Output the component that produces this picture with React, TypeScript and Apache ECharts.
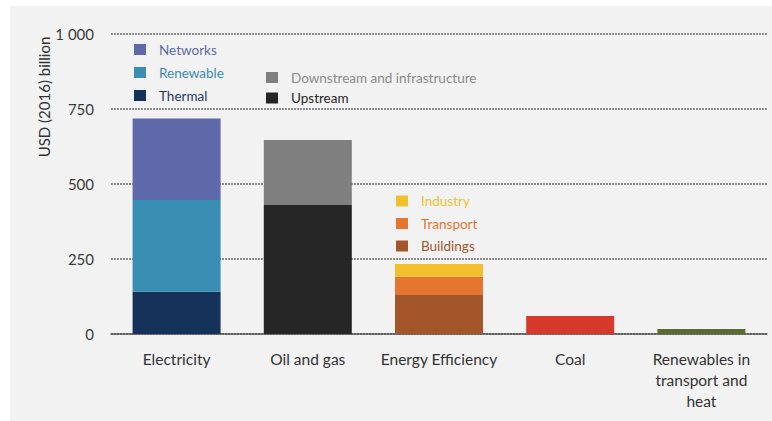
import React, { useEffect, useRef } from "react";
import * as echarts from "echarts";

// Investment by sector, USD (2016) billion
const categories = [
  "Electricity",
  "Oil and gas",
  "Energy Efficiency",
  "Coal",
  "Renewables in\ntransport and\nheat",
];
const thermal = [141, null, null, null, null];
const renewable = [306, null, null, null, null];
const networks = [271, null, null, null, null];
const upstream = [null, 430, null, null, null];
const downstream = [null, 217, null, null, null];
const buildings = [null, null, 130, null, null];
const transport = [null, null, 61, null, null];
const industry = [null, null, 42, null, null];
const coal = [null, null, null, 60, null];
const renewablesHeat = [null, null, null, null, 17];
const yTicks = [0, 250, 500, 750, 1000];

const FONT = "Lato, 'Open Sans', sans-serif";

const colors = {
  Networks: "#5f69aa",
  Renewable: "#3a8db3",
  Thermal: "#14325a",
  "Downstream and infrastructure": "#7f7f7f",
  Upstream: "#262626",
  Industry: "#f2bf2e",
  Transport: "#e5762f",
  Buildings: "#a3562a",
  Coal: "#d6392c",
  "Renewables in transport and heat": "#5b6b2f",
};

const legendText = {
  Networks: "#5f69aa",
  Renewable: "#3a8db3",
  Thermal: "#1d3a63",
  "Downstream and infrastructure": "#8a8a8a",
  Upstream: "#262626",
  Industry: "#f2bf2e",
  Transport: "#e5762f",
  Buildings: "#a3562a",
};

function bar(name: string, data: (number | null)[]) {
  return {
    name,
    type: "bar",
    stack: "total",
    barWidth: 88,
    data,
    itemStyle: { color: (colors as any)[name] },
  };
}

function legend(names: string[], left: number, top: number, gap: number) {
  return {
    orient: "vertical",
    left,
    top,
    itemWidth: 12,
    itemHeight: 11,
    itemGap: gap,
    icon: "rect",
    selectedMode: false,
    textStyle: {
      fontFamily: FONT,
      fontSize: 13.5,
      padding: [0, 0, 0, 8],
    },
    data: names.map((n) => ({
      name: n,
      textStyle: { color: (legendText as any)[n] },
    })),
  };
}

export default function App() {
  const ref = useRef<HTMLDivElement>(null);

  useEffect(() => {
    if (!ref.current) return;
    const chart = echarts.init(ref.current, undefined, { renderer: "svg" });
    chart.setOption({
      animation: false,
      backgroundColor: "#ffffff",
      grid: { left: 111, right: 5, top: 34, bottom: 87, containLabel: false },
      graphic: [
        {
          type: "rect",
          z: -10,
          silent: true,
          shape: { x: 10, y: 6, width: 762, height: 415 },
          style: { fill: "#f2f2f2" },
        },
        {
          type: "text",
          x: 44,
          y: 97,
          rotation: Math.PI / 2,
          style: {
            text: "USD (2016) billion",
            fontFamily: FONT,
            fontSize: 15,
            fill: "#333333",
            align: "center",
            verticalAlign: "middle",
          },
        },
      ],
      legend: [
        legend(["Networks", "Renewable", "Thermal"], 129, 37.5, 9),
        legend(["Downstream and infrastructure", "Upstream"], 261, 65.5, 6.5),
        legend(["Industry", "Transport", "Buildings"], 391, 189, 8.5),
      ],
      xAxis: {
        type: "category",
        data: categories,
        axisLine: { lineStyle: { color: "#555555", width: 1.5 } },
        axisTick: { show: false },
        axisLabel: {
          fontFamily: FONT,
          fontSize: 15.5,
          color: "#333333",
          margin: 14,
          lineHeight: 21,
          interval: 0,
        },
      },
      yAxis: {
        type: "value",
        min: 0,
        max: 1000,
        interval: 250,
        axisLine: { show: false },
        axisTick: { show: false },
        axisLabel: {
          fontFamily: FONT,
          fontSize: 15,
          color: "#3a3a3a",
          margin: 17,
          formatter: (v: number) =>
            yTicks.includes(v) ? String(v).replace(/\B(?=(\d{3})+(?!\d))/g, " ") : "",
        },
        splitLine: {
          lineStyle: { color: "#6a6a6a", type: [2, 1], width: 1.5 },
        },
      },
      series: [
        bar("Thermal", thermal),
        bar("Renewable", renewable),
        bar("Networks", networks),
        bar("Upstream", upstream),
        bar("Downstream and infrastructure", downstream),
        bar("Buildings", buildings),
        bar("Transport", transport),
        bar("Industry", industry),
        bar("Coal", coal),
        bar("Renewables in transport and heat", renewablesHeat),
      ],
    });
    return () => chart.dispose();
  }, []);

  return (
    <div
      ref={ref}
      style={{ position: "fixed", left: 0, top: 0, width: 772, height: 421 }}
    />
  );
}
